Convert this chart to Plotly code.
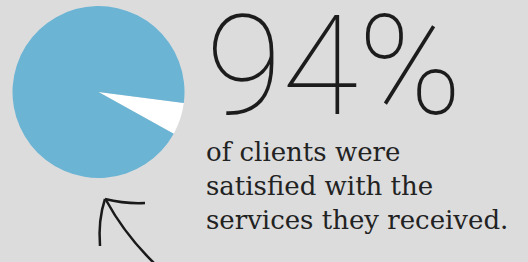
import plotly.graph_objects as go

W, H = 528, 262
labels = ["Not satisfied", "Satisfied"]
values = [6, 94]
colors = ["#ffffff", "#6bb4d4"]
headline = "94%"
caption_lines = ["of clients were", "satisfied with the", "services they received."]

def px(x, y):
    return x / W, 1 - y / H

fig = go.Figure()
fig.add_trace(go.Pie(
    labels=labels, values=values, sort=False, direction="clockwise",
    rotation=97.4, marker=dict(colors=colors, line=dict(width=0)),
    textinfo="none", hoverinfo="label+percent", showlegend=False,
    domain=dict(x=[12 / W, 185 / W], y=[1 - 178 / H, 1 - 6 / H]),
))

fig.add_annotation(text=headline, x=204 / W, y=1 - 66 / H, xref="paper", yref="paper",
                   xanchor="left", yanchor="middle", showarrow=False, height=112,
                   font=dict(family="Roboto", size=139, color="#1c1c1c", weight=100))
fig.add_annotation(text="<br>".join(caption_lines), x=204 / W, y=1 - 186 / H,
                   xref="paper", yref="paper", xanchor="left", yanchor="middle",
                   align="left", showarrow=False,
                   font=dict(family="DejaVu Serif", size=26, color="#222222"))

def curve(p0, c, p1):
    a, b = px(*p0), px(*c)
    d = px(*p1)
    return f"M{a[0]:.5f},{a[1]:.5f} Q{b[0]:.5f},{b[1]:.5f} {d[0]:.5f},{d[1]:.5f}"

arrow = dict(type="path", xref="paper", yref="paper", line=dict(color="#1a1a1a", width=2.5))
fig.add_shape(path=curve((106, 200), (125, 235), (155, 264)), **arrow)
fig.add_shape(path=curve((105, 199), (98, 220), (100, 246)), **arrow)
fig.add_shape(path=curve((105, 199), (125, 204), (145, 203)), **arrow)

fig.update_layout(width=W, height=H, margin=dict(l=0, r=0, t=0, b=0),
                  paper_bgcolor="#dcdcdd", plot_bgcolor="#dcdcdd")
fig.write_html("out.html", config={"displayModeBar": False},
               post_script="document.body.style.margin='0';")
